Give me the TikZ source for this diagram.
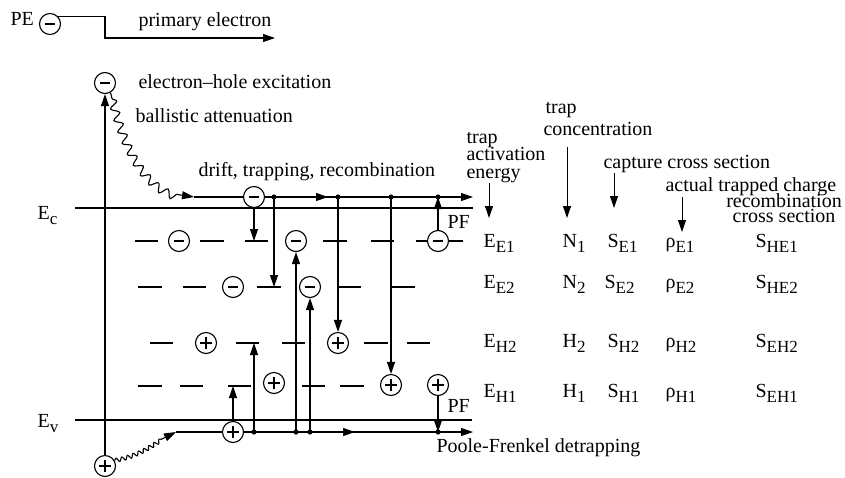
\documentclass[tikz,border=0pt]{standalone}
\usepackage{fontspec}
\setmainfont{Liberation Serif}
\usetikzlibrary{arrows.meta,decorations.pathmorphing}
\newcommand{\trapsym}[2]{#1\raisebox{-5pt}{\fontsize{17}{17}\selectfont #2}}
\tikzset{
	charge/.style={draw,circle,fill=white,inner sep=0pt,minimum size=21pt},
	elec/.style={charge,path picture={\draw[line width=1.1pt] ([xshift=-5pt]path picture bounding box.center) -- ([xshift=5pt]path picture bounding box.center);}},
	hole/.style={charge,path picture={\draw[line width=1.3pt] ([xshift=-6pt]path picture bounding box.center) -- ([xshift=6pt]path picture bounding box.center) ([yshift=-6pt]path picture bounding box.center) -- ([yshift=6pt]path picture bounding box.center);}},
	txt/.style={inner sep=0pt,anchor=base west},
	hop/.style={-{Triangle[length=12pt,width=8pt]}},
	wavyE/.style={decorate,decoration={snake,amplitude=4pt,segment length=12pt,pre length=6pt,post length=15pt}},
	wavyH/.style={decorate,decoration={snake,amplitude=2pt,segment length=6pt,post length=15pt}},
}
\begin{document}
\begin{tikzpicture}[x=1pt,y=-1pt,line width=1.1pt,font=\fontsize{20}{22}\selectfont]
			\useasboundingbox (0,0) rectangle (845,477);
			% band edges and drift lines
			\coordinate (ecL) at (75,208);
			\coordinate (ecR) at (473,208);
			\coordinate (evL) at (75,420);
			\coordinate (evR) at (472,420);
			\coordinate (dS) at (194,197);
			\coordinate (dM) at (328,197);
			\coordinate (dE) at (473,197);
			\coordinate (t274) at (274,197);
			\coordinate (t338) at (338,197);
			\coordinate (t391) at (391,197);
			\coordinate (t438) at (438,197);
			\coordinate (bS) at (176,432);
			\coordinate (bM) at (355,432);
			\coordinate (bE) at (473,432);
			\coordinate (b254) at (254,432);
			\coordinate (b296) at (296,432);
			\coordinate (b310) at (310,432);
			\coordinate (b438) at (438,432);
			\coordinate (tr1) at (254,241);
			\coordinate (tr2) at (274,287);
			\coordinate (tr3) at (233,386);
			\coordinate (tr4) at (254,343);
			\draw (ecL) -- (ecR);
			\draw (evL) -- (evR);
			\draw[hop] (dS) -- (dE);
			\draw[hop] (bS) -- (bE);
			% trap levels
			\draw (135,241) -- (158,241) (200,241) -- (224,241) (245,241) -- (268,241) (323,241) -- (347,241) (371,241) -- (394,241) (416,241) -- (463,241);
			\draw (138,287) -- (162,287) (183,287) -- (206,287) (257,287) -- (281,287) (338,287) -- (361,287) (391,287) -- (415,287);
			\draw (150,343) -- (173,343) (236,343) -- (259,343) (282,343) -- (305,343) (364,343) -- (388,343) (407,343) -- (430,343);
			\draw (138,386) -- (162,386) (180,386) -- (203,386) (228,386) -- (251,386) (302,386) -- (325,386) (340,386) -- (364,386);
			% charges
			\node[elec] (pe) at (50,24) {};
			\node[elec] (eX) at (105,83) {};
			\node[hole] (hX) at (105,466) {};
			\node[elec] (e0) at (254,197) {};
			\node[elec] (eA) at (179,241) {};
			\node[elec] (eB) at (296,241) {};
			\node[elec] (eC) at (438,241) {};
			\node[elec] (eD) at (233,287) {};
			\node[elec] (eE) at (310,287) {};
			\node[hole] (hA) at (206,343) {};
			\node[hole] (hB) at (338,343) {};
			\node[hole] (hC) at (274,383) {};
			\node[hole] (hD) at (391,385) {};
			\node[hole] (hE) at (438,385) {};
			\node[hole] (hF) at (233,432) {};
			% primary electron and excitation
			\coordinate (pe2) at (105,38);
			\coordinate (pe3) at (275,38);
			\draw[hop] (pe.north east) -- (pe.north east -| pe2) -- (pe2) -- (pe3);
			\draw[hop] (hX) -- (eX);
			\draw[hop,wavyE] (eX.-60) .. controls (130,175) and (160,195) .. (dS);
			\draw[hop,wavyH] (hX.30) .. controls (145,455) and (160,437) .. (bS);
			% transitions
			\draw[hop] (t274) -- (dM);
			\draw[hop] (b310) -- (bM);
			\draw[hop] (e0) -- (tr1);
			\draw[hop] (t274) -- (tr2);
			\draw[hop] (t338) -- (hB);
			\draw[hop] (t391) -- (hD);
			\draw[hop] (eC) -- (t438);
			\draw[hop] (hF) -- (tr3);
			\draw[hop] (b254) -- (tr4);
			\draw[hop] (b296) -- (eB);
			\draw[hop] (b310) -- (eE);
			\draw[hop] (hE) -- (b438);
			\fill (t274) circle (2.6pt) (t338) circle (2.6pt) (t391) circle (2.6pt) (t438) circle (2.6pt);
			\fill (b254) circle (2.6pt) (b296) circle (2.6pt) (b310) circle (2.6pt) (b438) circle (2.6pt);
			% labels
			\node[txt] (peLbl) at (10,25) {PE};
			\node[txt] (peTxt) at (138,26) {primary electron};
			\node[txt] (exTxt) at (138,88) {electron--hole excitation};
			\node[txt] (baTxt) at (135,122) {ballistic attenuation};
			\node[txt] (drTxt) at (198,176) {drift, trapping, recombination};
			\node[txt] (ecLbl) at (37,219) {\trapsym{E}{c}};
			\node[txt] (evLbl) at (37,427) {\trapsym{E}{v}};
			\node[txt] (pfE) at (447,228) {PF};
			\node[txt] (pfH) at (447,412) {PF};
			\node[txt] (pfTxt) at (436,452) {Poole-Frenkel detrapping};
			% parameter table
			\node[txt,align=left,font=\fontsize{20}{17.5}\selectfont] (hdE) at (466,178) {trap\\activation\\energy};
			\node[txt,align=left] (hdN) at (543,135) {\hspace{2pt}trap\\concentration};
			\node[txt] (hdS) at (603,168) {capture cross section};
			\node[txt] (hdR) at (665,191) {actual trapped charge};
			\node[anchor=base,inner sep=0pt,align=center,font=\fontsize{20}{13}\selectfont] (hdX) at (784,222) {recombination\\cross section};
			\coordinate (aE0) at (489,183);
			\coordinate (aE1) at (489,218);
			\coordinate (aN0) at (567,147);
			\coordinate (aN1) at (567,218);
			\coordinate (aS0) at (614,173);
			\coordinate (aS1) at (614,208);
			\coordinate (aR0) at (682,197);
			\coordinate (aR1) at (682,232);
			\draw[line width=0.9pt,hop] (aE0) -- (aE1);
			\draw[line width=0.9pt,hop] (aN0) -- (aN1);
			\draw[line width=0.9pt,hop] (aS0) -- (aS1);
			\draw[line width=0.9pt,hop] (aR0) -- (aR1);
			\node[txt] (eE1) at (483,247) {\trapsym{E}{E1}};
			\node[txt] (nE1) at (562,247) {\trapsym{N}{1}};
			\node[txt] (sE1) at (607,247) {\trapsym{S}{E1}};
			\node[txt] (rE1) at (665,247) {\trapsym{ρ}{E1}};
			\node[txt] (xE1) at (755,247) {\trapsym{S}{HE1}};
			\node[txt] (eE2) at (483,288) {\trapsym{E}{E2}};
			\node[txt] (nE2) at (562,288) {\trapsym{N}{2}};
			\node[txt] (sE2) at (604,288) {\trapsym{S}{E2}};
			\node[txt] (rE2) at (665,288) {\trapsym{ρ}{E2}};
			\node[txt] (xE2) at (755,288) {\trapsym{S}{HE2}};
			\node[txt] (eH2) at (483,347) {\trapsym{E}{H2}};
			\node[txt] (nH2) at (562,347) {\trapsym{H}{2}};
			\node[txt] (sH2) at (607,347) {\trapsym{S}{H2}};
			\node[txt] (rH2) at (665,347) {\trapsym{ρ}{H2}};
			\node[txt] (xH2) at (755,347) {\trapsym{S}{EH2}};
			\node[txt] (eH1) at (483,397) {\trapsym{E}{H1}};
			\node[txt] (nH1) at (562,397) {\trapsym{H}{1}};
			\node[txt] (sH1) at (607,397) {\trapsym{S}{H1}};
			\node[txt] (rH1) at (665,397) {\trapsym{ρ}{H1}};
			\node[txt] (xH1) at (755,397) {\trapsym{S}{EH1}};
		\end{tikzpicture}
\end{document}
